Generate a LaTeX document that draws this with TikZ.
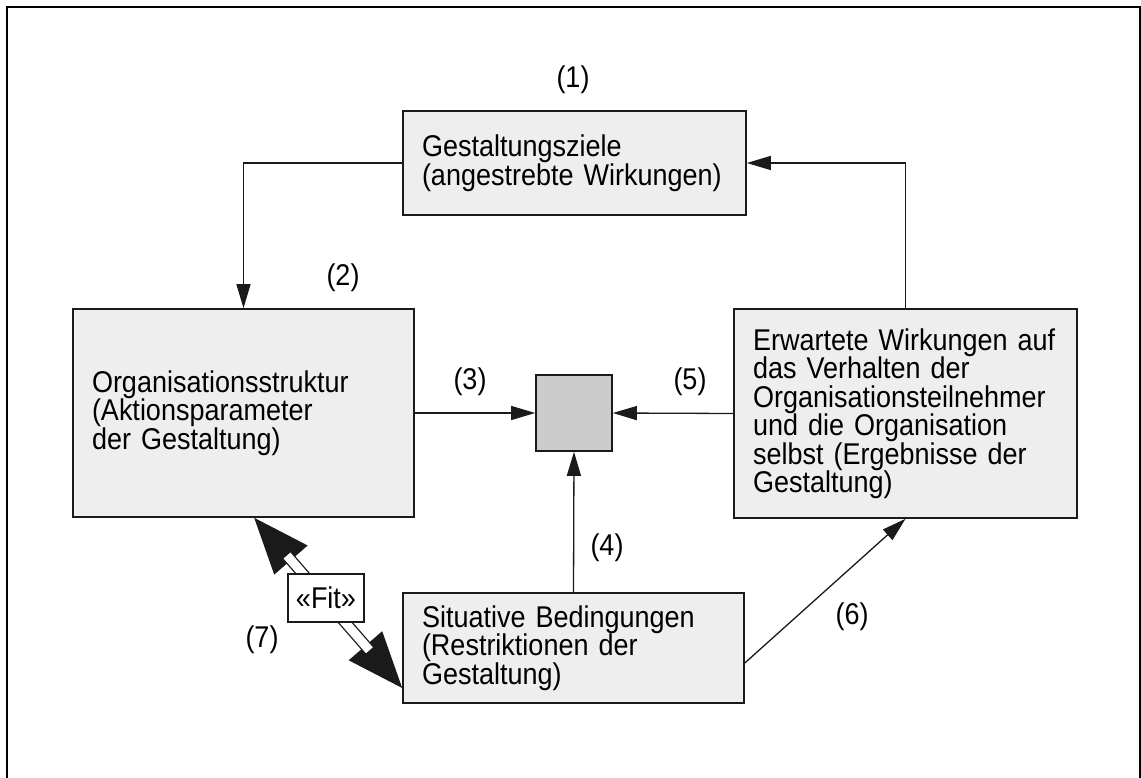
\documentclass[tikz,border=0pt]{standalone}
\usepackage{fontspec}
\setmainfont{Liberation Sans}[FakeStretch=0.9]
\usetikzlibrary{arrows.meta,calc}
\definecolor{boxfill}{HTML}{EEEEEE}
\definecolor{hubfill}{HTML}{CCCCCC}
\definecolor{ink}{HTML}{1A1A1A}
\begin{document}
\begin{tikzpicture}[x=1pt,y=-1pt,
  every node/.style={font=\fontsize{30}{28.5}\selectfont, text=black},
  box/.style={draw=ink, line width=1.6pt, fill=boxfill, inner xsep=19pt,
    inner ysep=0pt, align=left, anchor=center},
  hub/.style={draw=ink, line width=1.6pt, fill=hubfill, minimum width=76pt,
    minimum height=76pt, inner sep=0pt},
  fitbox/.style={draw=ink, line width=1.3pt, fill=white, minimum width=76pt,
    minimum height=48pt, inner sep=0pt},
  conn/.style={draw=ink, line width=1.3pt, -{Triangle[length=24pt,width=14pt]}},
  bigtips/.style={draw=ink, line width=1.3pt,
    {Triangle[length=56pt,width=44pt]}-{Triangle[length=56pt,width=44pt]}},
  twin/.style={draw=ink, line width=1.3pt, double=white, double distance=9pt,
    shorten <=50pt, shorten >=50pt},
  tag/.style={inner sep=0pt, anchor=center}
]
\useasboundingbox (0,0) rectangle (1141,778);

% frame
\draw[line width=2pt, black] (7,778) -- (7,7) -- (1140,7) -- (1140,778);

% boxes
\node[box, text width=305pt, minimum height=104pt] (ziel) at (574.5,163)
  {Gestaltungsziele\\(angestrebte Wirkungen)};
\node[box, text width=303pt, minimum height=208pt] (org) at (243.5,413)
  {Organisationsstruktur\\(Aktionsparameter\\der Gestaltung)};
\node[box, text width=305pt, minimum height=209pt] (erw) at (905.5,413.5)
  {Erwartete Wirkungen auf\\das Verhalten der\\Organisationsteilnehmer\\und die Organisation\\selbst (Ergebnisse der\\Gestaltung)};
\node[box, text width=303pt, minimum height=110pt] (sit) at (573.5,648)
  {Situative Bedingungen\\(Restriktionen der\\Gestaltung)};
\node[hub] (hub) at (574,413) {};

% connectors
\draw[conn] (ziel.west) -| (org.north);
\draw[conn] (erw.north) |- (ziel.east);
\draw[conn] (org.east) -- (hub.west);
\draw[conn] (erw.west) -- (hub.east);
\draw[conn] (sit.north) -- (hub.south);
\coordinate (sitout) at ($(sit.east)+(0,15)$);
\draw[conn] (sitout) -- (erw.south);

% fit relation between structure and situation
\coordinate (fitA) at ($(org.south west)+(182,0)$);
\coordinate (fitB) at ($(sit.west)+(0,40)$);
\draw[bigtips] (fitA) -- (fitB);
\draw[twin] (fitA) -- (fitB);
\node[fitbox] (fit) at (326,598) {«Fit»};

% step labels
\node[tag] (l1) at (573,80) {(1)};
\node[tag] (l2) at (343,278) {(2)};
\node[tag] (l3) at (470,382) {(3)};
\node[tag] (l5) at (690,382) {(5)};
\node[tag] (l4) at (607,548) {(4)};
\node[tag] (l6) at (852,617) {(6)};
\node[tag] (l7) at (262,640) {(7)};
\end{tikzpicture}
\end{document}
